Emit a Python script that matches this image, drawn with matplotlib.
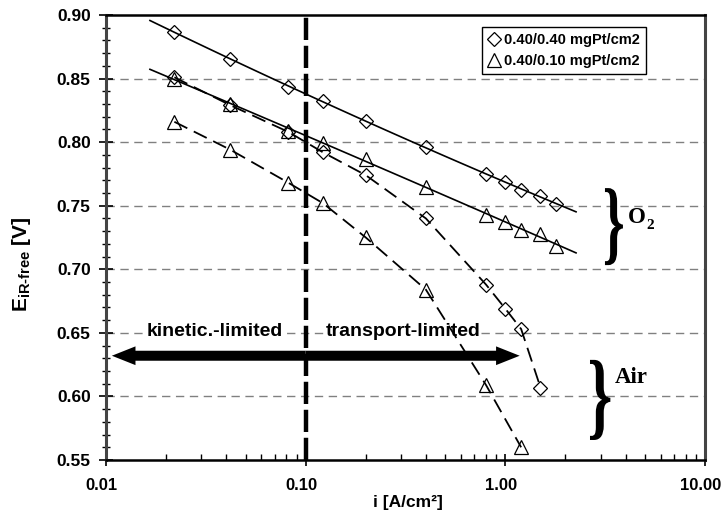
import numpy as np
import matplotlib
matplotlib.use("Agg")
import matplotlib.pyplot as plt
from matplotlib.ticker import FixedLocator, LogLocator, MultipleLocator, NullFormatter, FormatStrFormatter
from matplotlib.patches import FancyArrowPatch, PathPatch
from matplotlib.textpath import TextPath
from matplotlib.font_manager import FontProperties
from matplotlib.transforms import Affine2D, ScaledTranslation

plt.rcParams["font.family"] = ["Liberation Sans", "DejaVu Sans"]
plt.rcParams["font.weight"] = "bold"
plt.rcParams["mathtext.fontset"] = "custom"
plt.rcParams["mathtext.rm"] = "Liberation Sans:bold"
plt.rcParams["mathtext.bf"] = "Liberation Sans:bold"
plt.rcParams["mathtext.it"] = "Liberation Sans:bold"

# current density [A/cm2]
i_o2 = [0.022, 0.042, 0.082, 0.122, 0.2, 0.4, 0.8, 1.0, 1.2, 1.5, 1.8]
i_air_hi = [0.022, 0.042, 0.082, 0.122, 0.2, 0.4, 0.8, 1.0, 1.2, 1.5]
i_air_lo = [0.022, 0.042, 0.082, 0.122, 0.2, 0.4, 0.8, 1.2]

# iR-free cell voltage [V]
e_o2_hi = [0.887, 0.865, 0.843, 0.832, 0.817, 0.796, 0.775, 0.769, 0.762, 0.758, 0.751]
e_o2_lo = [0.850, 0.830, 0.809, 0.799, 0.787, 0.765, 0.743, 0.737, 0.731, 0.728, 0.718]
e_air_hi = [0.851, 0.829, 0.808, 0.792, 0.774, 0.740, 0.688, 0.669, 0.653, 0.607]
e_air_lo = [0.816, 0.794, 0.768, 0.752, 0.725, 0.684, 0.609, 0.560]

# Tafel fit range drawn for the O2 curves
fit_lo, fit_hi = 0.0166, 2.26

labels = ["0.40/0.40 mgPt/cm2", "0.40/0.10 mgPt/cm2"]
xtick_vals = [0.01, 0.1, 1, 10]
xtick_text = ["0.01", "0.10", "1.00", "10.00"]


def brace(ax, x0, y0, w, h):
    # stretched Times-style "}" glyph, placed in axes fraction
    fp = FontProperties(family="Liberation Serif", weight="bold")
    tp = TextPath((0, 0), "}", size=1, prop=fp)
    bb = tp.get_extents()
    tr = (Affine2D().translate(-bb.x0, -bb.y0)
          .scale(w / bb.width, h / bb.height)
          .translate(x0, y0))
    ax.add_patch(PathPatch(tr.transform_path(tp), transform=ax.transAxes,
                           fc="k", ec="none", clip_on=False, zorder=5))


fig = plt.figure(figsize=(7.25, 5.14), dpi=100)
ax = fig.add_axes([106 / 725, 1 - 460 / 514, 599 / 725, 445 / 514])

ax.set_xscale("log")
ax.set_xlim(0.01, 10)
ax.set_ylim(0.55, 0.90)

# horizontal grid
for yv in np.arange(0.60, 0.86, 0.05):
    ax.axhline(yv, color="#808080", lw=1.0, dashes=(6, 4), zorder=1)

# fitted O2 lines
xf = np.logspace(np.log10(fit_lo), np.log10(fit_hi), 100)
for ii, ee in [(i_o2, e_o2_hi), (i_o2, e_o2_lo)]:
    c = np.polyfit(np.log10(ii), ee, 2)
    ax.plot(xf, np.polyval(c, np.log10(xf)), color="k", lw=1.2, zorder=3)

# air curves
ax.plot(i_air_hi, e_air_hi, color="k", lw=1.3, dashes=(8, 4), zorder=3)
ax.plot(i_air_lo, e_air_lo, color="k", lw=1.3, dashes=(8, 4), zorder=3)

mk = dict(mfc="none", mec="k", mew=0.9, ls="none", zorder=4)
h1, = ax.plot(i_o2, e_o2_hi, marker="D", ms=7.3, label=labels[0], **mk)
h2, = ax.plot(i_o2, e_o2_lo, marker="^", ms=10.5, label=labels[1], **mk)
ax.plot(i_air_hi, e_air_hi, marker="D", ms=7.3, **mk)
ax.plot(i_air_lo, e_air_lo, marker="^", ms=10.5, **mk)

# kinetic / transport boundary
ax.axvline(0.1, color="k", lw=3.2, dashes=(5, 1.3), zorder=6)

# double arrow
y_arr = 0.632
for xend in (0.0107, 1.18):
    ax.add_patch(FancyArrowPatch((0.1, y_arr), (xend, y_arr),
                                 arrowstyle="simple,head_length=1.7,head_width=1.35,tail_width=0.72",
                                 mutation_scale=10, fc="k", ec="none",
                                 shrinkA=0, shrinkB=0, zorder=5))

tb = dict(fc="white", ec="none", pad=0.1)
ax.text(0.0351, 0.651, "kinetic.-limited", fontsize=14, ha="center", va="center",
        bbox=tb, zorder=2)
ax.text(0.307, 0.651, "transport-limited", fontsize=14, ha="center", va="center",
        bbox=tb, zorder=2)

# gas labels
brace(ax, 0.833, 0.438, 0.030, 0.173)
brace(ax, 0.808, 0.045, 0.034, 0.180)
serif = dict(family="Liberation Serif", weight="bold", fontsize=16.5)
ax.text(0.872, 0.545, "O", ha="left", va="center", transform=ax.transAxes, **serif)
ax.text(0.902, 0.528, "2", ha="left", va="center", transform=ax.transAxes,
        family="Liberation Serif", weight="bold", fontsize=11)
ax.text(0.850, 0.185, "Air", ha="left", va="center", transform=ax.transAxes, **serif)

leg = ax.legend(handles=[h1, h2], loc="upper left", bbox_to_anchor=(0.628, 0.973),
                fontsize=10.5, frameon=True, fancybox=False, framealpha=1,
                edgecolor="k", handlelength=0.8, handletextpad=0.3,
                borderpad=0.4, labelspacing=0.5, borderaxespad=0)
leg.get_frame().set_linewidth(1.0)
leg.set_zorder(7)

# axes styling
for s in ("top", "bottom"):
    ax.spines[s].set_linewidth(1.8)
    ax.spines[s].set_color("k")
for s in ("left", "right"):
    ax.spines[s].set_linewidth(2.2)
    ax.spines[s].set_color("#444444")

ax.xaxis.set_major_locator(FixedLocator(xtick_vals))
ax.set_xticklabels(xtick_text)
ax.xaxis.set_minor_locator(LogLocator(base=10, subs=np.arange(2, 10)))
ax.xaxis.set_minor_formatter(NullFormatter())
ax.yaxis.set_major_locator(MultipleLocator(0.05))
ax.yaxis.set_minor_locator(MultipleLocator(0.01))
ax.yaxis.set_major_formatter(FormatStrFormatter("%.2f"))

ax.tick_params(axis="x", which="major", direction="inout", length=8, width=1.2,
               labelsize=12, pad=9)
ax.tick_params(axis="x", which="minor", direction="in", length=4, width=1.0)
ax.tick_params(axis="y", which="major", direction="inout", length=10, width=1.2,
               labelsize=12.5, pad=6)
ax.tick_params(axis="y", which="minor", direction="inout", length=6, width=1.0)

# nudge x tick labels slightly left so the last one stays inside the figure
shift = ScaledTranslation(-3 / 72, 0, fig.dpi_scale_trans)
for lbl in ax.get_xticklabels():
    lbl.set_transform(lbl.get_transform() + shift)

ax.set_xlabel("i [A/cm\u00b2]", fontsize=12.5, fontweight="bold")
ax.xaxis.set_label_coords(0.504, -0.078)
ax.set_ylabel(r"$\mathrm{E}_{\text{iR-free}}$ [V]", fontsize=15, fontweight="bold")
ax.yaxis.set_label_coords(-0.122, 0.44)

fig.savefig("out.png", dpi=100)
